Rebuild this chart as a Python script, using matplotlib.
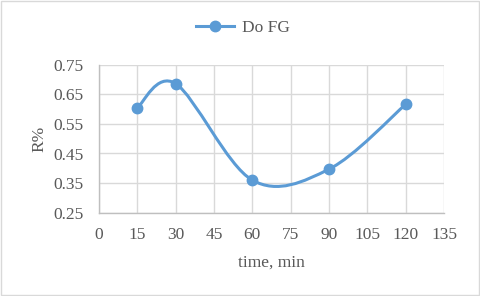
import matplotlib
matplotlib.use("Agg")
import matplotlib.pyplot as plt
from matplotlib.path import Path
from matplotlib.patches import PathPatch, Rectangle
from matplotlib.lines import Line2D
import numpy as np

# Data
time_min = [15, 30, 60, 90, 120]
r_values = [0.605, 0.686, 0.360, 0.397, 0.616]
series_name = "Do FG"
x_ticks = list(range(0, 136, 15))
y_ticks = [0.25, 0.35, 0.45, 0.55, 0.65, 0.75]

plt.rcParams['font.family'] = ['Liberation Serif', 'DejaVu Serif']
color = '#5B9BD5'
text_color = '#595959'
grid_color = '#D9D9D9'
fs = 12.5

fig = plt.figure(figsize=(4.8, 2.96), dpi=100)
ax = fig.add_axes([99/480, 1 - 212.7/296, (444-99)/480, (212.7-64.7)/296])

# Excel-like smoothed line (Catmull-Rom Bezier)
pts = np.column_stack([time_min, r_values]).astype(float)
n = len(pts)
verts = [tuple(pts[0])]
codes = [Path.MOVETO]
for i in range(n - 1):
    p0 = pts[i - 1] if i > 0 else pts[i]
    p1 = pts[i]
    p2 = pts[i + 1]
    p3 = pts[i + 2] if i + 2 < n else pts[i + 1]
    c1 = p1 + (p2 - p0) / 6
    c2 = p2 - (p3 - p1) / 6
    verts += [tuple(c1), tuple(c2), tuple(p2)]
    codes += [Path.CURVE4] * 3
path = Path(verts, codes)
ax.add_patch(PathPatch(path, facecolor='none', edgecolor=color, lw=2.2,
                       capstyle='round', joinstyle='round', zorder=3))
ax.plot(time_min, r_values, linestyle='none', marker='o', markersize=7.5,
        color=color, zorder=4)

ax.set_xlim(0, 135)
ax.set_ylim(0.25, 0.75)
ax.set_xticks(x_ticks)
ax.set_yticks(y_ticks)
ax.set_yticklabels([f"{v:.2f}" for v in y_ticks])
ax.grid(True, color=grid_color, lw=1.0)
ax.set_axisbelow(True)
ax.tick_params(axis='y', length=0, labelsize=fs, colors=text_color, pad=11)
ax.tick_params(axis='x', length=0, labelsize=fs, colors=text_color, pad=10)
for s in ['top', 'right']:
    ax.spines[s].set_visible(False)
for s in ['left', 'bottom']:
    ax.spines[s].set_color('#BFBFBF')
    ax.spines[s].set_linewidth(1.0)

ax.set_xlabel("time, min", fontsize=fs, color=text_color, labelpad=9)
ax.set_ylabel("R%", fontsize=fs, color=text_color, labelpad=4)

handle = Line2D([], [], color=color, lw=2.2, marker='o', markersize=7.5)
fig.legend([handle], [series_name], loc='center',
           bbox_to_anchor=(243/480, 1 - 28/296), frameon=False,
           fontsize=fs, handlelength=2.2, handletextpad=0.45,
           labelcolor=text_color)

fig.patches.append(Rectangle((0.002, 0.003), 0.995, 0.993, transform=fig.transFigure,
                             fill=False, edgecolor='#D9D9D9', lw=1.0))

fig.savefig("out.png", dpi=100)
